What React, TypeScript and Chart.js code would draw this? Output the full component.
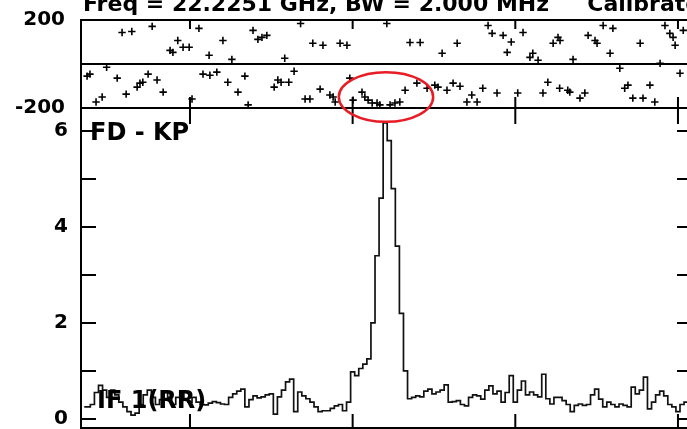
import React, { useEffect, useRef } from "react";
import { Chart, registerables } from "chart.js";

Chart.register(...registerables);

// Spectrum header and panel labels
const titleText = "Freq = 22.2251 GHz, BW = 2.000 MHz     Calibrated";
const sourceLabel = "FD - KP";
const ifLabel = "IF 1(RR)";

// Amplitude spectrum, one value per channel starting at FIRST_CHANNEL
const FIRST_CHANNEL = 14;
const amplitude = [
  0.25, 0.25, 0.3, 0.55, 0.7, 0.6, 0.45, 0.6, 0.5, 0.35,
  0.25, 0.15, 0.08, 0.12, 0.3, 0.5, 0.6, 0.45, 0.3, 0.4,
  0.55, 0.45, 0.3, 0.45, 0.55, 0.4, 0.35, 0.45, 0.35, 0.3,
  0.29, 0.33, 0.36, 0.34, 0.31, 0.3, 0.45, 0.52, 0.58, 0.62,
  0.25, 0.4, 0.48, 0.44, 0.46, 0.5, 0.52, 0.1, 0.46, 0.6,
  0.77, 0.83, 0.15, 0.56, 0.48, 0.42, 0.35, 0.25, 0.15, 0.17,
  0.17, 0.22, 0.27, 0.3, 0.17, 0.35, 0.98, 0.9, 1.05, 1.14,
  1.25, 2.0, 3.4, 4.6, 6.17, 5.8, 4.8, 3.6, 2.2, 1.0,
  0.42, 0.45, 0.48, 0.46, 0.58, 0.62, 0.52, 0.56, 0.6, 0.71,
  0.35, 0.36, 0.38, 0.3, 0.27, 0.45, 0.5, 0.48, 0.41, 0.6,
  0.69, 0.52, 0.58, 0.35, 0.55, 0.9, 0.35, 0.6, 0.79, 0.5,
  0.56, 0.5, 0.46, 0.93, 0.42, 0.31, 0.45, 0.45, 0.38, 0.3,
  0.15, 0.28, 0.31, 0.28, 0.3, 0.5, 0.62, 0.41, 0.25, 0.35,
  0.3, 0.25, 0.31, 0.28, 0.25, 0.66, 0.52, 0.6, 0.87, 0.21,
  0.35, 0.5, 0.58, 0.48, 0.3, 0.25, 0.15, 0.3, 0.35, 0.4,
];

// Phase samples (channel, degrees)
const phaseChannel = [
  14.7, 15.4, 16.9, 18.4, 19.5, 22.1, 23.3, 24.3, 25.7, 27.0,
  27.7, 28.4, 29.7, 30.7, 31.9, 33.4, 35.1, 35.8, 37.0, 38.3,
  39.8, 40.5, 42.2, 43.2, 44.7, 44.9, 46.6, 48.1, 49.3, 50.3,
  51.8, 53.5, 54.3, 55.5, 56.7, 57.7, 58.9, 60.7, 61.6, 62.4,
  63.3, 64.3, 65.6, 67.2, 68.3, 69.5, 70.2, 72.0, 72.7, 74.4,
  75.2, 75.7, 76.9, 78.6, 79.3, 80.1, 82.3, 83.0, 83.8, 84.8,
  86.0, 86.7, 88.4, 89.2, 90.4, 91.6, 92.9, 94.1, 95.8, 96.6,
  98.3, 100.2, 101.0, 102.0, 103.2, 104.7, 105.7, 106.4, 108.1, 109.3,
  110.6, 112.0, 113.3, 114.3, 115.5, 117.0, 118.0, 119.0, 120.6, 121.9,
  123.6, 124.3, 125.6, 126.8, 128.0, 129.3, 130.5, 130.9, 131.0, 132.9,
  133.4, 134.2, 135.9, 137.1, 137.9, 139.6, 140.1, 141.6, 143.3, 144.0,
  145.7, 146.9, 147.7, 148.9, 150.7, 151.4, 153.1, 154.3, 155.6, 156.8,
  158.0, 158.8, 159.3, 160.5, 161.3,
];
const phaseDeg = [
  -55, -46, -173, -150, -15, -64, 143, -137, 148, -105,
  -87, -83, -46, 171, -73, -128, 62, 53, 107, 76,
  76, -159, 162, -46, 40, -51, -37, 107, -83, 21,
  -128, -55, -186, 153, 112, 121, 130, -105, -73, -83,
  26, -83, -33, 184, -159, -159, 94, -114, 85, -141,
  -150, -173, 94, 85, -64, -164, -128, -150, -164, -177,
  -177, -186, 184, -186, -177, -173, -119, 98, -87, 98,
  -110, -96, -105, 49, -119, -87, 94, -101, -173, -141,
  -173, -110, 175, 139, -132, 130, 53, 100, -132, 143,
  30, 49, 17, -132, -83, 94, 121, -110, 107, -119,
  -128, 21, -155, -132, 130, 107, 94, 175, 49, 162,
  -19, -110, -96, -155, 94, -155, -96, -173, 3, 175,
  139, 121, 85, -42, 153,
];

// Axis ticks
const phaseTicks = [-200, 200];
const ampTicks = [0, 1, 2, 3, 4, 5, 6];
const channelTicks = [40, 80, 120, 160];

// Highlighted region on the phase panel (channel, degrees)
const ringCenter = { channel: 88.2, phase: -150 };
const ringRadius = { channel: 11.6, phase: 113 };

const FONT = '"DejaVu Sans", "Liberation Sans", Arial, sans-serif';
const INK = "#000";

const panelPlugin = {
  id: "panels",
  beforeDatasetsDraw(chart: any) {
    const { ctx, chartArea, scales } = chart;
    const x = scales.x;
    const yP = scales.yP;
    const yA = scales.yA;
    const L = chartArea.left;
    const R = chartArea.right;
    ctx.save();
    ctx.strokeStyle = INK;
    ctx.lineWidth = 2;
    ctx.lineCap = "butt";
    ctx.beginPath();
    // phase panel frame and zero line
    ctx.rect(L, yP.top, R - L, yP.bottom - yP.top);
    const zero = yP.getPixelForValue(0);
    ctx.moveTo(L, zero);
    ctx.lineTo(R, zero);
    // amplitude panel frame
    ctx.moveTo(L, yA.top);
    ctx.lineTo(L, yA.bottom);
    ctx.lineTo(R, yA.bottom);
    ctx.lineTo(R, yA.top);
    // amplitude ticks (inward, both sides)
    for (const v of ampTicks) {
      const py = yA.getPixelForValue(v);
      ctx.moveTo(L, py);
      ctx.lineTo(L + 15, py);
      ctx.moveTo(R, py);
      ctx.lineTo(R - 15, py);
    }
    // channel ticks on every panel edge
    for (const c of channelTicks) {
      const px = x.getPixelForValue(c);
      ctx.moveTo(px, yP.top);
      ctx.lineTo(px, yP.top + 9);
      ctx.moveTo(px, yP.bottom);
      ctx.lineTo(px, yP.bottom - 11);
      ctx.moveTo(px, yA.top);
      ctx.lineTo(px, yA.top + 16);
      ctx.moveTo(px, yA.bottom);
      ctx.lineTo(px, yA.bottom - 14);
    }
    ctx.stroke();
    ctx.restore();
  },
  afterDatasetsDraw(chart: any) {
    const { ctx, chartArea, scales } = chart;
    const x = scales.x;
    const yP = scales.yP;
    const yA = scales.yA;
    ctx.save();
    ctx.fillStyle = INK;
    ctx.textAlign = "left";
    ctx.textBaseline = "alphabetic";
    ctx.font = `bold 22px ${FONT}`;
    ctx.fillText(titleText, chartArea.left + 2, yP.top - 9);
    ctx.font = `bold 24px ${FONT}`;
    ctx.fillText(sourceLabel, chartArea.left + 9, yA.top + 32);
    ctx.fillText(ifLabel, chartArea.left + 16, yA.getPixelForValue(0) - 11);

    // red ring around the central phase points
    const cx = x.getPixelForValue(ringCenter.channel);
    const cy = yP.getPixelForValue(ringCenter.phase);
    const rx = x.getPixelForValue(ringCenter.channel + ringRadius.channel) - cx;
    const ry = yP.getPixelForValue(ringCenter.phase - ringRadius.phase) - cy;
    ctx.strokeStyle = "rgb(232, 28, 36)";
    ctx.lineWidth = 2.5;
    ctx.beginPath();
    ctx.ellipse(cx, cy, Math.abs(rx), Math.abs(ry), 0, 0, Math.PI * 2);
    ctx.stroke();
    ctx.restore();
  },
};

// Keep the plotting area exactly where the layout padding puts it
const fixLeftAxis = (s: any) => {
  s.width = 81;
  s.paddingTop = 0;
  s.paddingBottom = 0;
};

export default function App() {
  const canvasRef = useRef<HTMLCanvasElement | null>(null);

  useEffect(() => {
    const canvas = canvasRef.current;
    if (!canvas) return;

    const spectrum = amplitude.map((v, i) => ({ x: FIRST_CHANNEL + i, y: v }));
    const phase = phaseChannel.map((c, i) => ({ x: c, y: phaseDeg[i] }));

    const chart = new Chart(canvas, {
      type: "line",
      data: {
        datasets: [
          {
            label: "Amplitude",
            data: spectrum,
            yAxisID: "yA",
            stepped: "middle",
            borderColor: "#111",
            borderWidth: 1.7,
            pointRadius: 0,
            fill: false,
          },
          {
            type: "scatter",
            label: "Phase",
            data: phase,
            yAxisID: "yP",
            showLine: false,
            pointStyle: "cross",
            pointRadius: 3.7,
            borderColor: INK,
            borderWidth: 1.6,
          } as any,
        ],
      },
      options: {
        animation: false,
        responsive: false,
        devicePixelRatio: 1,
        layout: { padding: { top: 20, right: 8, bottom: 12, left: 0 } },
        plugins: {
          legend: { display: false },
          title: { display: false },
          tooltip: { enabled: false },
        },
        scales: {
          x: {
            type: "linear",
            display: false,
            min: 13.2,
            max: 163.45,
          },
          yP: {
            type: "linear",
            position: "left",
            stack: "panels",
            stackWeight: 88,
            weight: 1,
            min: -200,
            max: 200,
            afterBuildTicks: (s: any) => {
              s.ticks = phaseTicks.map((v) => ({ value: v }));
            },
            afterFit: fixLeftAxis,
            grid: { display: false, drawTicks: false },
            border: { display: false },
            ticks: {
              color: INK,
              padding: 16,
              autoSkip: false,
              font: { family: FONT, size: 20, weight: "bold" },
            },
          },
          yA: {
            type: "linear",
            position: "left",
            stack: "panels",
            stackWeight: 320,
            weight: 0,
            min: -0.19,
            max: 6.48,
            afterBuildTicks: (s: any) => {
              s.ticks = ampTicks.map((v) => ({ value: v }));
            },
            afterFit: fixLeftAxis,
            grid: { display: false, drawTicks: false },
            border: { display: false },
            ticks: {
              color: INK,
              padding: 13,
              autoSkip: false,
              font: { family: FONT, size: 20, weight: "bold" },
              callback: (v: any) => (Number(v) % 2 === 0 ? String(v) : ""),
            },
          },
        } as any,
      },
      plugins: [panelPlugin],
    });

    return () => chart.destroy();
  }, []);

  return (
    <div
      style={{
        position: "fixed",
        left: 0,
        top: 0,
        width: 687,
        height: 429,
        overflow: "hidden",
        background: "#fff",
      }}
    >
      <canvas
        ref={canvasRef}
        width={700}
        height={440}
        style={{ display: "block", width: 700, height: 440 }}
      />
    </div>
  );
}
